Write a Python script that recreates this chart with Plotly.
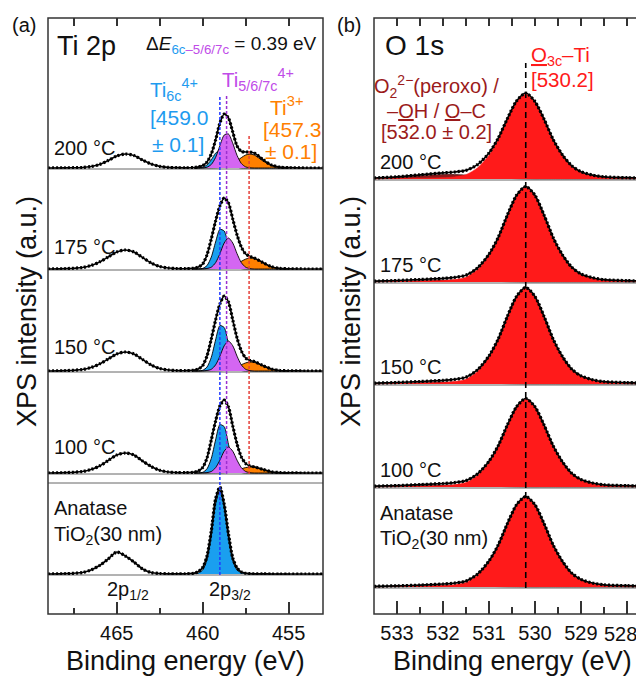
import plotly.graph_objects as go

# ---------------- Panel (a): Ti 2p ----------------
E_TI = [469, 468, 467, 466.5, 466, 465.5, 465, 464.5, 464, 463.5, 463, 462.5, 462, 461.5, 461,
        460.5, 460.25, 460, 459.75, 459.5, 459.25, 459, 458.75, 458.5, 458.25, 458, 457.75,
        457.5, 457.25, 457, 456.5, 456, 455.5, 455, 454, 453]
TI_TOTAL_200 = [0, 0.2, 0.5, 1.5, 3.5, 7.5, 12, 14, 12.5, 8, 4, 1.6, 0.6, 0.3, 0.2,
                0.5, 1.2, 2.5, 6, 14, 28, 45, 54, 50, 36, 22, 16.5,
                16, 16, 15, 8.5, 3, 0.8, 0.3, 0, 0]
TI_TOTAL_175 = [0, 0.3, 1.5, 3.5, 7, 12, 17, 19, 17, 11.5, 6, 2.5, 1, 0.4, 0.3,
                0.8, 2, 5, 14, 30, 48, 63, 71, 66, 50, 34, 22,
                15, 12.5, 11, 6.5, 2.3, 0.6, 0.2, 0, 0]
TI_TOTAL_150 = [0, 0.3, 1.5, 3.5, 7, 12, 17, 19, 17, 11.5, 6, 2.5, 1, 0.4, 0.3,
                0.8, 2, 5.5, 15, 32, 51, 67, 75, 69, 51, 33, 20,
                13, 10.5, 9.5, 5.5, 2, 0.5, 0.2, 0, 0]
TI_TOTAL_100 = [0, 0.3, 1.5, 3.5, 7, 12.5, 18, 20, 18, 12, 6.5, 2.7, 1, 0.4, 0.3,
                0.8, 2, 5.5, 15, 33, 52, 67, 73, 66, 47, 29, 16,
                9.5, 7, 6.2, 3.6, 1.2, 0.4, 0.1, 0, 0]
TI_TOTAL_ANA = [0, 0.3, 1.5, 4, 8.5, 15, 22, 18, 12, 5, 1.5, 0.5, 0.2, 0.1, 0.2,
                0.8, 2.5, 6.5, 18, 43, 75, 87, 70, 40, 16, 6, 2,
                0.8, 0.4, 0.2, 0.1, 0, 0, 0, 0, 0]

E_TI_FIT = [460.5, 460.25, 460, 459.75, 459.5, 459.25, 459, 458.75, 458.5, 458.25,
            458, 457.75, 457.5, 457.25, 457, 456.5, 456, 455.5, 455]
TI6C_200 = [0, 0.1, 0.8, 3.1, 8.2, 14.8, 18, 14.8, 8.2, 3.1, 0.8, 0.1, 0, 0, 0, 0, 0, 0, 0]
TI567_200 = [0, 0, 0.1, 0.8, 3.5, 10.5, 22.3, 32.9, 34, 24.7, 12.6, 4.5, 1.1, 0.2, 0, 0, 0, 0, 0]
TI3_200 = [0, 0, 0, 0.1, 0.1, 0.2, 0.4, 1.0, 2.2, 4.3, 7.2, 10.4, 13, 14, 13, 7.2, 2.2, 0.4, 0]
TI6C_175 = [0, 0.1, 0.6, 3.4, 11.9, 27, 39.6, 38, 23.6, 9.5, 2.5, 0.4, 0, 0, 0, 0, 0, 0, 0]
TI567_175 = [0, 0, 0.1, 0.5, 1.8, 6.3, 15.3, 26, 31, 26, 15.3, 6.3, 1.8, 0.4, 0, 0, 0, 0, 0]
TI3_175 = [0, 0, 0, 0.1, 0.1, 0.2, 0.3, 0.6, 1.5, 3, 5.2, 7.7, 9.9, 11, 10.5, 6.2, 2, 0.4, 0]
TI6C_150 = [0, 0.1, 0.7, 3.9, 13.6, 31, 45.4, 43.5, 27, 10.9, 2.9, 0.5, 0, 0, 0, 0, 0, 0, 0]
TI567_150 = [0, 0, 0.1, 0.5, 1.7, 6.1, 14.8, 25.2, 30, 25.2, 14.8, 6.1, 1.7, 0.4, 0, 0, 0, 0, 0]
TI3_150 = [0, 0, 0, 0.1, 0.1, 0.2, 0.3, 0.5, 1.2, 2.5, 4.3, 6.3, 8.1, 9, 8.6, 5.1, 1.6, 0.3, 0]
TI6C_100 = [0, 0.1, 0.7, 4.1, 14.5, 33, 48.3, 46.4, 28.8, 11.6, 3, 0.5, 0, 0, 0, 0, 0, 0, 0]
TI567_100 = [0, 0, 0.1, 0.4, 1.5, 5.3, 12.8, 21.8, 26, 21.8, 12.8, 5.3, 1.5, 0.3, 0, 0, 0, 0, 0]
TI3_100 = [0, 0, 0, 0, 0.1, 0.1, 0.2, 0.3, 0.8, 1.6, 2.8, 4.2, 5.4, 6, 5.7, 3.4, 1.1, 0.2, 0]
TI6C_ANA = [0.2, 1, 4, 14, 38, 70, 84, 66, 36, 13, 4, 1.2, 0.3, 0, 0, 0, 0, 0, 0]

TI_SAMPLES = ["200 °C", "175 °C", "150 °C", "100 °C", "Anatase", "TiO<sub>2</sub>(30 nm)"]
TI_LINES_E = [459.0, 458.61, 457.3]          # Ti6c, Ti5/6/7c, Ti3+
TI_TICKS = [465, 460, 455]
TI_MINOR = [467.5, 462.5, 457.5]
TI_PEAK_LABELS = [("2p<sub>1/2</sub>", 464.35), ("2p<sub>3/2</sub>", 458.4)]

# ---------------- Panel (b): O 1s ----------------
E_O = [533.5, 533, 532.5, 532, 531.75, 531.5, 531.25, 531, 530.8, 530.6, 530.4, 530.2,
       530, 529.8, 529.6, 529.4, 529.2, 529, 528.75, 528.5, 528, 527.65]
O_TOTAL_200 = [1.0, 2.2, 4.2, 6.2, 7.0, 8.6, 14.4, 26.0, 40.6, 60.4, 78.0, 86, 77.5, 59.6, 39.2, 24.0, 13.2, 7.3, 3.9, 2.2, 1.3, 1.0]
O_TI_200 = [0.3, 0.4, 0.7, 1.3, 2.1, 4.3, 11.1, 23.8, 39.1, 59.5, 77.4, 85, 77.4, 59.5, 39.1, 23.8, 12.8, 6.8, 3.4, 1.7, 0.9, 0.5]
O_OH_200 = [0.6, 1.6, 3.3, 4.6, 4.6, 4.0, 3.0, 2.0, 1.3, 0.7, 0.3, 0.1, 0, 0, 0, 0, 0, 0, 0, 0, 0, 0]
O_TOTAL_175 = [0.8, 1.5, 2.5, 3.6, 4.6, 6.8, 14.0, 27.7, 44.4, 66.9, 86.7, 95.5, 86.7, 66.7, 44.0, 27.0, 14.8, 8.1, 4.3, 2.3, 1.4, 1.0]
O_TI_175 = [0.3, 0.5, 0.8, 1.4, 2.4, 4.8, 12.4, 26.6, 43.7, 66.5, 86.5, 95, 86.5, 66.5, 43.7, 26.6, 14.3, 7.6, 3.8, 1.9, 1.0, 0.6]
O_OH_175 = [0.3, 0.8, 1.5, 2.0, 2.0, 1.8, 1.4, 0.9, 0.6, 0.3, 0.1, 0, 0, 0, 0, 0, 0, 0, 0, 0, 0, 0]
O_TOTAL_150 = [0.8, 1.5, 2.5, 3.6, 4.6, 6.8, 14.1, 28.0, 44.9, 67.6, 87.6, 96.5, 87.6, 67.4, 44.5, 27.3, 14.9, 8.2, 4.3, 2.3, 1.4, 1.0]
O_TI_150 = [0.3, 0.5, 0.8, 1.4, 2.4, 4.8, 12.5, 26.9, 44.2, 67.2, 87.4, 96, 87.4, 67.2, 44.2, 26.9, 14.4, 7.7, 3.8, 1.9, 1.0, 0.6]
O_OH_150 = [0.3, 0.8, 1.5, 2.0, 2.0, 1.8, 1.4, 0.9, 0.6, 0.3, 0.1, 0, 0, 0, 0, 0, 0, 0, 0, 0, 0, 0]
O_TOTAL_100 = [0.8, 1.4, 2.4, 3.5, 4.4, 6.4, 13.0, 25.7, 41.2, 62.0, 80.3, 88.5, 80.3, 61.8, 40.8, 25.0, 13.7, 7.5, 4.0, 2.2, 1.3, 1.0]
O_TI_100 = [0.3, 0.4, 0.7, 1.3, 2.2, 4.4, 11.4, 24.6, 40.5, 61.6, 80.1, 88, 80.1, 61.6, 40.5, 24.6, 13.2, 7.0, 3.5, 1.8, 0.9, 0.5]
O_OH_100 = [0.3, 0.8, 1.5, 2.0, 2.0, 1.8, 1.4, 0.9, 0.6, 0.3, 0.1, 0, 0, 0, 0, 0, 0, 0, 0, 0, 0, 0]
O_TOTAL_ANA = [0.7, 1.2, 1.9, 3.0, 3.9, 5.9, 12.8, 26.0, 41.9, 63.4, 82.2, 90.5, 82.2, 63.2, 41.7, 25.5, 13.9, 7.6, 4.0, 2.2, 1.3, 1.0]
O_TI_ANA = [0.3, 0.5, 0.7, 1.4, 2.3, 4.5, 11.7, 25.2, 41.4, 63, 81.9, 90, 81.9, 63, 41.4, 25.2, 13.5, 7.2, 3.6, 1.8, 0.9, 0.5]
O_OH_ANA = [0.2, 0.6, 1.1, 1.5, 1.5, 1.3, 1.0, 0.7, 0.4, 0.2, 0.1, 0, 0, 0, 0, 0, 0, 0, 0, 0, 0, 0]

O_SAMPLES = ["200 °C", "175 °C", "150 °C", "100 °C", "Anatase", "TiO<sub>2</sub>(30 nm)"]
O_LINE_E = 530.2
O_TICKS = [533, 532, 531, 530, 529, 528]
O_TICK_TEXT = ["533", "532", "531", "530", "529", ""]   # last label drawn as an annotation (edge)
O_EDGE_LABEL = "528"
O_MINOR = [532.5, 531.5, 530.5, 529.5, 528.5]

# ---------------- styling ----------------
WIN_W, WIN_H = 644, 677
OFF = 8                      # page body margin of the html page
W, H = WIN_W - OFF, WIN_H - OFF
FONT = "Liberation Sans, Arial, sans-serif"
C_BLUE, C_PURPLE, C_ORANGE = "#1A9FEF", "#D466F2", "#FF8000"
C_BLUE_T, C_PURPLE_T, C_ORANGE_T = "#1E9BEF", "#C04CE8", "#FF8000"
C_RED, C_DRED = "#FF1A1A", "#8B1A1A"
FRAME = "#333333"


def px(x):
    return (x - OFF) / W


def py(y):
    return 1 - (y - OFF) / H


ROWS_A = [(18, 169), (169, 270), (270, 372), (372, 474), (483, 575)]
ROWS_B = [(18, 180), (180, 283), (283, 385), (385, 488), (488, 588)]
A_X = (48, 323)
B_X = (374, 643)

fig = go.Figure()


def envelope(x, y, xa, ya):
    fig.add_trace(go.Scatter(x=x, y=y, xaxis=xa, yaxis=ya, mode="lines",
                             line=dict(color="black", width=1.7, shape="spline", smoothing=0.7),
                             hoverinfo="skip"))
    fig.add_trace(go.Scatter(x=x, y=y, xaxis=xa, yaxis=ya, mode="lines",
                             line=dict(color="black", width=3.2, dash="2px,2px", shape="spline", smoothing=0.7),
                             hoverinfo="skip"))


def component(x, y, xa, ya, color, lc="black", lw=0.9):
    fig.add_trace(go.Scatter(x=x, y=y, xaxis=xa, yaxis=ya, mode="lines", fill="tozeroy",
                             fillcolor=color,
                             line=dict(color=lc, width=lw, shape="spline", smoothing=0.7),
                             hoverinfo="skip"))


# panel (a) traces
ti_sets = [
    (TI_TOTAL_200, TI6C_200, TI567_200, TI3_200),
    (TI_TOTAL_175, TI6C_175, TI567_175, TI3_175),
    (TI_TOTAL_150, TI6C_150, TI567_150, TI3_150),
    (TI_TOTAL_100, TI6C_100, TI567_100, TI3_100),
    (TI_TOTAL_ANA, TI6C_ANA, None, None),
]
for i, (tot, b, p, o) in enumerate(ti_sets):
    ya = "y" if i == 0 else f"y{i + 1}"
    xa = "x2" if i == 0 else "x"
    component(E_TI_FIT, b, xa, ya, C_BLUE)
    if o is not None:
        component(E_TI_FIT, o, xa, ya, C_ORANGE)
    if p is not None:
        component(E_TI_FIT, p, xa, ya, C_PURPLE)
    envelope(E_TI, tot, xa, ya)

# panel (b) traces
o_sets = [
    (O_TOTAL_200, O_TI_200, O_OH_200),
    (O_TOTAL_175, O_TI_175, O_OH_175),
    (O_TOTAL_150, O_TI_150, O_OH_150),
    (O_TOTAL_100, O_TI_100, O_OH_100),
    (O_TOTAL_ANA, O_TI_ANA, O_OH_ANA),
]
for i, (tot, r, oh) in enumerate(o_sets):
    ya = f"y{i + 6}"
    xa = "x4" if i == 0 else "x3"
    component(E_O, oh, xa, ya, C_DRED, lc="#3a0a0a", lw=0.6)
    component(E_O, r, xa, ya, C_RED, lc=C_RED, lw=0.6)
    envelope(E_O, tot, xa, ya)

tickstyle = dict(ticks="inside", tickcolor=FRAME, tickwidth=1.5, showgrid=False, zeroline=False,
                 showline=False, fixedrange=True)
layout = dict(
    width=W, height=H, margin=dict(l=0, r=0, t=0, b=0, autoexpand=False),
    paper_bgcolor="white", plot_bgcolor="rgba(0,0,0,0)", showlegend=False,
    font=dict(family=FONT, color="#111111"),
    xaxis=dict(domain=[px(A_X[0]), px(A_X[1])], range=[469, 453], anchor="free", position=py(614),
               tickvals=TI_TICKS, ticklen=12, tickfont=dict(size=20), ticklabelstandoff=5,
               minor=dict(tickvals=TI_MINOR, ticks="inside", ticklen=6, tickwidth=1.5, tickcolor=FRAME),
               **tickstyle),
    xaxis2=dict(domain=[px(A_X[0]), px(A_X[1])], range=[469, 453], anchor="y", side="top",
                tickmode="linear", tick0=455, dtick=2.5, ticklen=8, showticklabels=False, **tickstyle),
    xaxis3=dict(domain=[px(B_X[0]), px(B_X[1])], range=[533.5, 527.65], anchor="free", position=py(614),
                tickvals=O_TICKS, ticktext=O_TICK_TEXT, ticklen=13, tickfont=dict(size=20),
                ticklabelstandoff=5,
                minor=dict(tickvals=O_MINOR, ticks="inside", ticklen=7, tickwidth=1.5, tickcolor=FRAME),
                **tickstyle),
    xaxis4=dict(domain=[px(B_X[0]), px(B_X[1])], range=[533.5, 527.65], anchor="y6", side="top",
                tickmode="linear", tick0=528, dtick=0.5, ticklen=8, showticklabels=False, **tickstyle),
)
for i, (t, b) in enumerate(ROWS_A):
    key = "yaxis" if i == 0 else f"yaxis{i + 1}"
    layout[key] = dict(domain=[py(b), py(t)], range=[-1, (b - t) - 1], anchor="x", visible=False,
                       fixedrange=True)
for i, (t, b) in enumerate(ROWS_B):
    layout[f"yaxis{i + 6}"] = dict(domain=[py(b), py(t)], range=[-1, (b - t) - 1], anchor="x3",
                                   visible=False, fixedrange=True)

shapes = []
for (x0, x1) in (A_X, B_X):
    shapes.append(dict(type="rect", xref="paper", yref="paper", x0=px(x0), x1=px(x1), y0=py(614),
                       y1=py(18), line=dict(color=FRAME, width=1.5), layer="above"))
for (x0, x1), seps in ((A_X, [169, 270, 372, 474, 483, 575]), (B_X, [180, 283, 385, 488, 588])):
    for s in seps:
        shapes.append(dict(type="line", xref="paper", yref="paper", x0=px(x0), x1=px(x1), y0=py(s),
                           y1=py(s), line=dict(color="#666666", width=1), layer="below"))
ti_line_style = [("#2038FF", 95, 575), ("#9B30D0", 95, 474), ("#E5403A", 135, 474)]
for e, (col, top, bot) in zip(TI_LINES_E, ti_line_style):
    shapes.append(dict(type="line", xref="x", yref="paper", x0=e, x1=e, y0=py(bot), y1=py(top),
                       line=dict(color=col, width=1.5, dash="3px,2px"), layer="above"))
shapes.append(dict(type="line", xref="x3", yref="paper", x0=O_LINE_E, x1=O_LINE_E, y0=py(588), y1=py(63),
                   line=dict(color="black", width=1.6, dash="6px,4px"), layer="above"))
layout["shapes"] = shapes

ann = []


def lab(text, x, y, size, color="#111111", xanchor="left", angle=0):
    ann.append(dict(text=text, x=px(x), y=py(y), xref="paper", yref="paper", showarrow=False,
                    xanchor=xanchor, yanchor="middle", textangle=angle,
                    font=dict(size=size, color=color, family=FONT), align="left"))


# panel (a) labels
lab("(a)", 10, 25, 20)
lab("Ti 2p", 55, 46, 27)
lab("Δ<i>E</i><sub><span style='color:%s'>6c</span><span style='color:%s'>–5/6/7c</span></sub> = 0.39 eV"
    % (C_BLUE_T, C_PURPLE_T), 144, 45, 19)
lab("Ti<sub>6c</sub><sup>4+</sup>", 148, 90, 20.5, C_BLUE_T)
lab("[459.0", 148, 118, 21, C_BLUE_T)
lab("± 0.1]", 150, 145, 21, C_BLUE_T)
lab("Ti<sub>5/6/7c</sub><sup>4+</sup>", 220, 79, 20.5, C_PURPLE_T)
lab("Ti<sup>3+</sup>", 268, 106, 21, C_ORANGE_T)
lab("[457.3", 323, 129, 21, C_ORANGE_T, xanchor="right")
lab("± 0.1]", 319, 152, 21, C_ORANGE_T, xanchor="right")
for name, y in zip(TI_SAMPLES, [148, 247, 347, 447, 508, 535]):
    lab(name, 52, y, 20)
for name, e in TI_PEAK_LABELS:
    ann.append(dict(text=name, x=e, y=py(590), xref="x", yref="paper", showarrow=False,
                    xanchor="center", yanchor="middle", font=dict(size=20, family=FONT, color="#111111")))
lab("Binding energy (eV)", 185, 661, 27, xanchor="center")
lab("XPS intensity (a.u.)", 27, 312, 27, xanchor="center", angle=-90)

# panel (b) labels
lab("(b)", 335, 25, 20)
lab("O 1s", 383, 46, 28)
lab("<u>O</u><sub>3c</sub>–Ti", 529, 56, 20.5, C_RED)
lab("[530.2]", 529, 79, 20.5, C_RED)
lab("O<sub>2</sub><sup>2−</sup>(peroxo) /", 436, 87, 20, "#9B1B1B", xanchor="center")
lab("–<u>O</u>H / <u>O</u>–C", 436, 111, 20, "#9B1B1B", xanchor="center")
lab("[532.0 ± 0.2]", 436, 132, 20, "#9B1B1B", xanchor="center")
for name, y in zip(O_SAMPLES, [162, 265, 367, 470, 513, 539]):
    lab(name, 378, y, 20)
lab(O_EDGE_LABEL, 620, 634, 20, xanchor="center")
lab("Binding energy (eV)", 512, 661, 27, xanchor="center")
lab("XPS intensity (a.u.)", 351, 312, 27, xanchor="center", angle=-90)

layout["annotations"] = ann
fig.update_layout(**layout)
fig.write_html("out.html")
